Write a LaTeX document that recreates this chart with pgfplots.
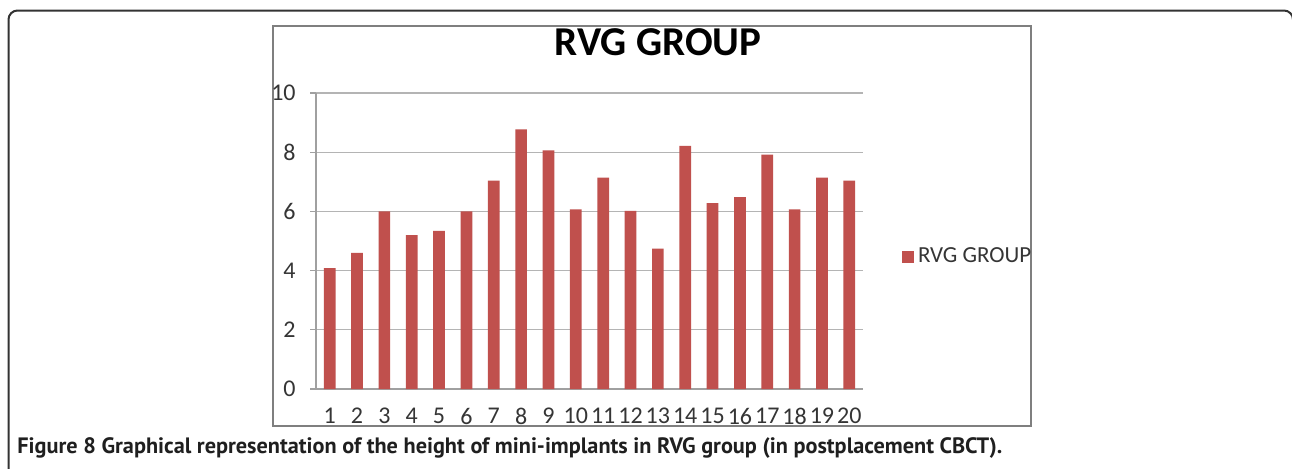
\documentclass[border=0pt]{standalone}
\usepackage{pgfplots}
\pgfplotsset{compat=1.18}
\usepackage{fontspec}
\setmainfont{Carlito}[Numbers=Lining]
\newfontfamily\capfont{PT Sans}
\definecolor{barred}{HTML}{C0504D}
\definecolor{gridgray}{HTML}{B4B4B4}
\definecolor{axisgray}{HTML}{A0A0A0}
\definecolor{ticktext}{HTML}{353535}
\definecolor{boxgray}{HTML}{7F7F7F}
\definecolor{framegray}{HTML}{333333}
\begin{document}
\begin{tikzpicture}
\useasboundingbox (0,0) rectangle (646pt,-234pt);
\clip (0,0) rectangle (646pt,-234pt);
\fill[white] (0,0) rectangle (646pt,-234pt);
\draw[framegray, line width=1pt, rounded corners=4.5pt] (4.25pt,-250pt) -- (4.25pt,-5.25pt) -- (646.5pt,-5.25pt) -- (646.5pt,-250pt);
\draw[boxgray, line width=0.6pt] (136.5pt,-13pt) rectangle (515.5pt,-213pt);
\begin{axis}[
  at={(158pt,-194.5pt)}, anchor=south west,
  scale only axis, width=273.5pt, height=148pt,
  xmin=0.5, xmax=20.5, ymin=0, ymax=10,
  axis x line*=bottom, axis y line*=left,
  axis line style={-, axisgray, line width=0.6pt},
  ybar, bar width=5.85pt,
  xtick={1,...,20}, minor xtick={0.5,1.5,...,20.5},
  ytick={0,2,...,10},
  ymajorgrids, grid style={gridgray, line width=0.6pt},
  tick align=outside, major tick length=3pt, minor tick length=3.5pt,
  xtick style={draw=none}, minor x tick style={axisgray, line width=0.6pt},
  ytick style={axisgray, line width=0.6pt},
  tick label style={font=\fontsize{12}{14}\selectfont, text=ticktext},
  yticklabel style={anchor=east, inner sep=0pt, xshift=-7pt},
  xticklabel style={anchor=north, inner sep=0pt, yshift=-6.5pt},
  /pgf/number format/assume math mode=true,
  legend style={at={(1.0713,0.446)}, anchor=west, draw=none, fill=none,
    inner sep=0pt, outer sep=0pt, nodes={inner sep=0pt, text=ticktext},
    font=\fontsize{11.5}{13}\selectfont,
    /tikz/every odd column/.append style={column sep=2pt}},
  legend image code/.code={\fill[#1] (0pt,-3pt) rectangle (6pt,3pt);},
]
\addplot[fill=barred, draw=none] coordinates {
(1,4.08) (2,4.60) (3,6.00) (4,5.20) (5,5.34) (6,6.00) (7,7.04) (8,8.77) (9,8.06) (10,6.07)
(11,7.14) (12,6.02) (13,4.74) (14,8.21) (15,6.28) (16,6.48) (17,7.92) (18,6.07) (19,7.14) (20,7.04)};
\addlegendentry{RVG GROUP}
\end{axis}
\node[anchor=base, inner sep=0pt, font=\fontsize{20.5}{24}\selectfont\bfseries] at (329pt,-27.5pt) {RVG GROUP};
\node[anchor=base west, inner sep=0pt, text=black!88] at (8.5pt,-226.65pt) {\resizebox{492.5pt}{!}{\capfont\bfseries Figure 8 Graphical representation of the height of mini-implants in RVG group (in postplacement CBCT).}};
\end{tikzpicture}
\end{document}
